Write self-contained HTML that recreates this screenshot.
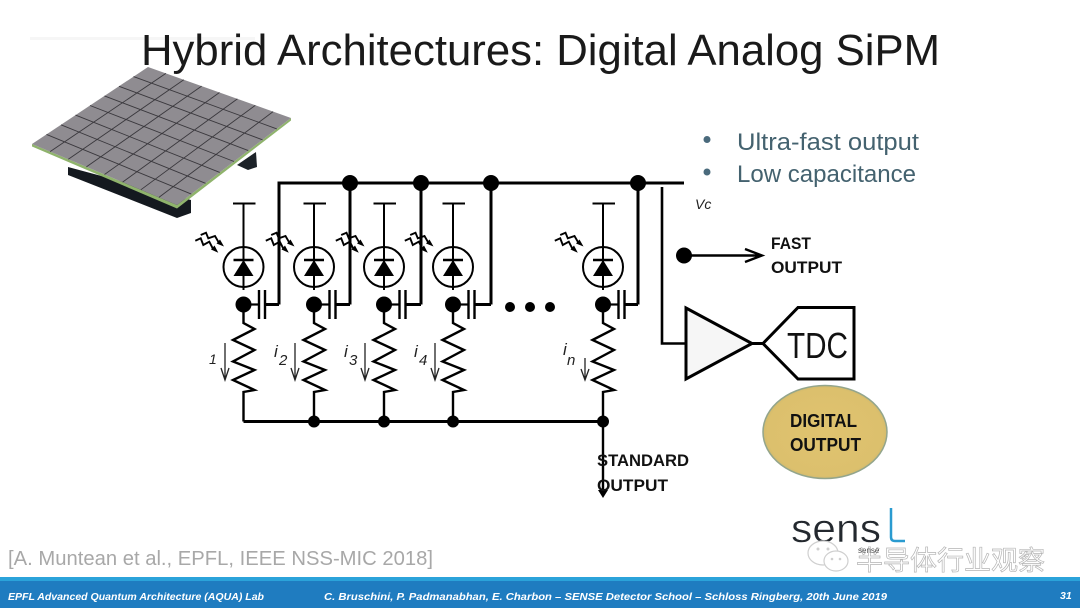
<!DOCTYPE html>
<html><head><meta charset="utf-8"><style>
html,body{margin:0;padding:0;background:#fff}
svg{display:block;width:1080px;height:608px}
text{font-family:"Liberation Sans",sans-serif}
</style></head><body>
<svg xmlns="http://www.w3.org/2000/svg" width="1080" height="608" viewBox="0 0 1080 608">
<defs>
<radialGradient id="gold" cx="50%" cy="50%" r="55%">
  <stop offset="0" stop-color="#e0c36f"/><stop offset="0.85" stop-color="#dcc06d"/><stop offset="1" stop-color="#c7b36c"/>
</radialGradient>
<g id="cell" fill="none" stroke="#000">
  <path d="M-10.500 203.500H12" stroke-width="2"/>
  <circle cx="0" cy="267" r="20" stroke-width="2" fill="#fff"/>
  <path d="M0 203.500V290" stroke-width="2"/>
  <path d="M-10 260H10" stroke-width="2.400"/>
  <path d="M0 260L-10 276H10Z" fill="#000" stroke="none"/>
  <circle cx="0" cy="304.500" r="8" fill="#000" stroke="none"/>
  <path d="M0 304.500H15" stroke-width="2.200"/>
  <path d="M15.500 290V319M21.500 290V319" stroke-width="2.400"/>
  <path d="M0 304V323L11 329L-10.500 340L11 350L-10.500 361.500L11 370L-10.500 380L11 390L0 392V421.500" stroke-width="2.400"/>
  <path d="M-42.800 235L-37.500 232.700L-35.200 238.300L-28.500 236L-25.200 241.700L-22 244" stroke-width="1.900"/>
  <path d="M-48.200 240.700L-42.800 238.300L-40.200 245L-34.200 241.700L-30.800 248.300L-27.500 250.500" stroke-width="1.900"/>
  <path d="M-19.500 246.500L-27 243.500L-23.500 239.500ZM-25.200 252.800L-32.500 249.500L-29 245.500Z" fill="#000" stroke="none"/>
</g>
</defs>
<rect width="1080" height="608" fill="#fff"/>
<rect x="30" y="37" width="225" height="3" fill="#f6f6f6"/>

<!-- title -->
<text x="141" y="65" font-size="44" fill="#1a1a1a" textLength="799" lengthAdjust="spacingAndGlyphs">Hybrid Architectures: Digital Analog SiPM</text>

<!-- chip -->
<path d="M68 167V175L177 218L191 213V200Z" fill="#14191f"/>
<path d="M237 165L248 170L257 167L256 152Z" fill="#1c2228"/>
<path d="M32 144L177 205L291 118V120.500L177 208.500L32 146.500Z" fill="#8fb36c"/>
<path d="M148 67L291 118L177 205L32 144Z" fill="#8f8c91"/>
<path d="M165.900 73.400L50.100 151.600M183.800 79.800L68.300 159.300M201.600 86.100L86.400 166.900M219.500 92.500L104.500 174.500M237.400 98.900L122.600 182.100M255.300 105.300L140.800 189.800M273.100 111.600L158.900 197.400M133.500 76.600L276.800 128.900M119 86.300L262.500 139.800M104.500 95.900L248.300 150.600M90 105.500L234 161.500M75.500 115.100L219.800 172.400M61 124.800L205.500 183.300M46.500 134.400L191.300 194.100" stroke="#3a383d" stroke-width="0.900" fill="none"/>

<!-- bullets -->
<circle cx="707" cy="139.500" r="3.500" fill="#4a6a7c"/>
<circle cx="707" cy="172" r="3.500" fill="#4a6a7c"/>
<text x="737" y="150" font-size="24" fill="#44626f" textLength="182" lengthAdjust="spacingAndGlyphs">Ultra-fast output</text>
<text x="737" y="182" font-size="24" fill="#44626f" textLength="179" lengthAdjust="spacingAndGlyphs">Low capacitance</text>

<!-- cells -->
<use href="#cell" x="243.500"/>
<use href="#cell" x="314"/>
<use href="#cell" x="384"/>
<use href="#cell" x="453"/>
<use href="#cell" x="603"/>

<!-- buses and capacitor returns -->
<g fill="none" stroke="#000" stroke-width="3">
  <path d="M279 304.500V183H684"/>
  <path d="M350 183V304.500M421 183V304.500M491 183V304.500M638 183V304.500"/>
  <path d="M265 304.500H279M335.500 304.500H350M405.500 304.500H421M474.500 304.500H491M624.500 304.500H638"/>
  <path d="M243.500 421.500H603"/>
  <path d="M603 421V490" stroke-width="2.400"/>
  <path d="M662 187V343.500H686" stroke-width="2.600"/>
</g>
<g fill="#000">
  <circle cx="350" cy="183" r="8"/><circle cx="421" cy="183" r="8"/><circle cx="491" cy="183" r="8"/><circle cx="638" cy="183" r="8"/>
  <circle cx="314" cy="421.500" r="6"/><circle cx="384" cy="421.500" r="6"/><circle cx="453" cy="421.500" r="6"/><circle cx="603" cy="421.500" r="6"/>
  <circle cx="510" cy="307" r="5"/><circle cx="530" cy="307" r="5"/><circle cx="550" cy="307" r="5"/>
  <path d="M598 490H608L603 498Z"/>
</g>

<!-- current arrows -->
<g fill="none" stroke="#222" stroke-width="1.300">
  <path d="M225 343V380M221 368L225 380L229 368"/>
  <path d="M295 343V380M291 368L295 380L299 368"/>
  <path d="M365 343V380M361 368L365 380L369 368"/>
  <path d="M435 343V380M431 368L435 380L439 368"/>
  <path d="M585 358V380M581 369L585 380L589 369"/>
</g>
<g font-style="italic" fill="#222" font-size="17">
  <text x="209" y="364" font-size="14">1</text>
  <text x="274" y="357">i</text><text x="279" y="365" font-size="15">2</text>
  <text x="344" y="357">i</text><text x="349" y="365" font-size="15">3</text>
  <text x="414" y="357">i</text><text x="419" y="365" font-size="15">4</text>
  <text x="563" y="355">i</text><text x="567" y="365" font-size="15">n</text>
  <text x="695" y="209" font-size="14">Vc</text>
</g>

<!-- fast output -->
<circle cx="684" cy="255.500" r="8" fill="#000"/>
<path d="M684 255.500H761M745 249L762 255.500L745 262" fill="none" stroke="#000" stroke-width="2.400"/>
<text x="771" y="249" font-size="17" font-weight="bold" fill="#111" textLength="40" lengthAdjust="spacingAndGlyphs">FAST</text>
<text x="771" y="273" font-size="17" font-weight="bold" fill="#111" textLength="71" lengthAdjust="spacingAndGlyphs">OUTPUT</text>

<!-- amp + TDC -->
<path d="M686 308L752 343.500L686 379Z" fill="#f6f6f6" stroke="#000" stroke-width="3"/>
<path d="M752 343.500H763" stroke="#000" stroke-width="3"/>
<path d="M763 343.500L798 307.500H854V379H798Z" fill="#fff" stroke="#000" stroke-width="3"/>
<text x="787" y="358" font-size="36" fill="#111" textLength="61" lengthAdjust="spacingAndGlyphs">TDC</text>

<!-- digital output -->
<ellipse cx="825" cy="432" rx="62" ry="46.500" fill="url(#gold)" stroke="#93a58c" stroke-width="1.500"/>
<text x="790" y="427" font-size="18" font-weight="bold" fill="#111" textLength="67" lengthAdjust="spacingAndGlyphs">DIGITAL</text>
<text x="790" y="451" font-size="18" font-weight="bold" fill="#111" textLength="71" lengthAdjust="spacingAndGlyphs">OUTPUT</text>

<!-- standard output -->
<text x="597" y="466" font-size="17" font-weight="bold" fill="#111" textLength="92" lengthAdjust="spacingAndGlyphs">STANDARD</text>
<text x="597" y="491" font-size="17" font-weight="bold" fill="#111" textLength="71" lengthAdjust="spacingAndGlyphs">OUTPUT</text>

<!-- citation -->
<text x="8" y="565" font-size="20" fill="#a8a8a8" textLength="425" lengthAdjust="spacingAndGlyphs">[A. Muntean et al., EPFL, IEEE NSS-MIC 2018]</text>

<!-- sensL logo -->
<text x="791" y="542" font-size="40" fill="#23282e" stroke="#fff" stroke-width="0.500" textLength="90" lengthAdjust="spacingAndGlyphs">sens</text>
<path d="M891 508V537Q891 541 895 541H905" fill="none" stroke="#2a9bd0" stroke-width="2.500"/>

<!-- watermark -->
<g fill="#fff" stroke="#cfcfcf" stroke-width="1.200">
  <ellipse cx="823" cy="553" rx="15" ry="12"/>
  <ellipse cx="836" cy="561" rx="12" ry="10"/>
</g>
<g fill="#cfcfcf"><circle cx="818" cy="549" r="1.500"/><circle cx="828" cy="549" r="1.500"/><circle cx="832" cy="559" r="1.300"/><circle cx="840" cy="559" r="1.300"/></g>
<text x="856" y="570" font-size="27" fill="#fff" stroke="#b5b5b5" stroke-width="0.700" style="font-family:'Liberation Sans','Noto Sans CJK SC',sans-serif" textLength="189">半导体行业观察</text>
<text x="858" y="553" font-size="8" fill="#555">sense</text>

<!-- footer -->
<rect x="0" y="577" width="1080" height="4" fill="#2ba3da"/>
<rect x="0" y="581" width="1080" height="27" fill="#1f7cc0"/>
<g font-size="10.500" font-weight="bold" font-style="italic" fill="#fff">
  <text x="8" y="600" textLength="256" lengthAdjust="spacingAndGlyphs">EPFL Advanced Quantum Architecture (AQUA) Lab</text>
  <text x="324" y="600" textLength="563" lengthAdjust="spacingAndGlyphs">C. Bruschini, P. Padmanabhan, E. Charbon – SENSE Detector School – Schloss Ringberg, 20th June 2019</text>
  <text x="1060" y="599">31</text>
</g>
</svg>
</body></html>
